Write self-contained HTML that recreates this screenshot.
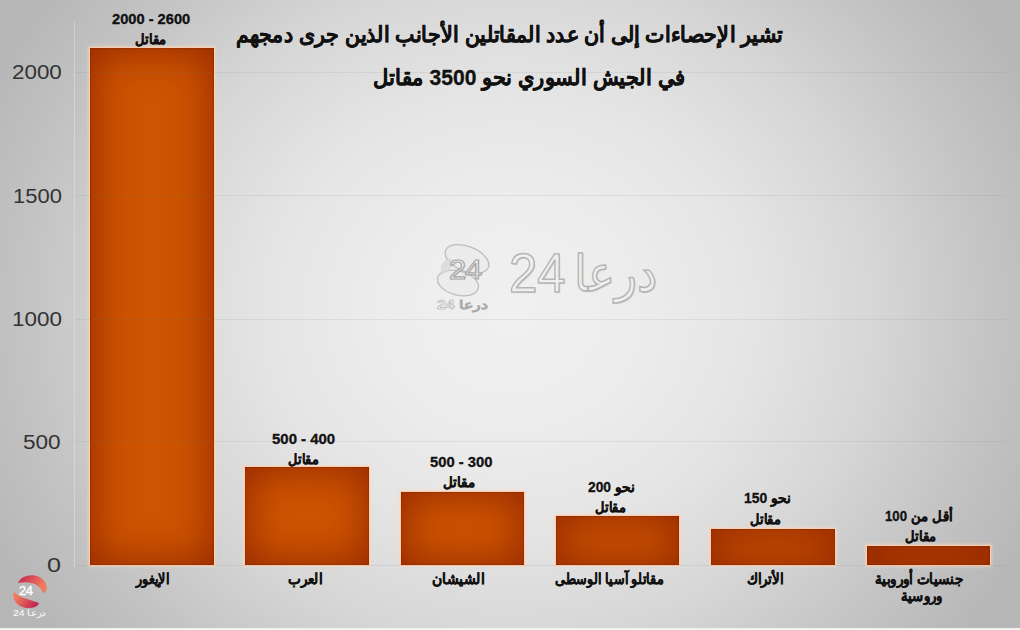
<!DOCTYPE html>
<html lang="ar">
<head>
<meta charset="utf-8">
<style>
html,body{margin:0;padding:0;}
body{width:1020px;height:630px;overflow:hidden;position:relative;font-family:"Liberation Sans",sans-serif;
background:radial-gradient(ellipse 480px 436px at 510px 311px, rgb(240,240,240) 0%, rgb(237,237,237) 25%, rgb(229,229,229) 50%, rgb(215,215,215) 75%, rgb(196,196,196) 100%, rgb(183,183,183) 120%);}
.grid{position:absolute;left:75px;width:931px;height:1px;background:rgba(120,120,120,0.12);}
.vax{position:absolute;left:74px;top:22px;width:1px;height:545px;background:rgba(228,228,228,0.5);}
.bar{position:absolute;width:123.6px;background:#cd5400;box-shadow:inset 0 0 40px 3px rgba(135,30,0,0.8), inset 0 0 2px 0 rgba(100,25,0,0.9), 0 0 0 1px rgba(252,205,175,0.9), 0 0 3px 2px rgba(252,215,190,0.6);}
.t{position:absolute;white-space:nowrap;line-height:1;transform-origin:0 0;}
.b{-webkit-text-stroke:0.3px currentColor;}
.bot{position:absolute;left:0;top:628px;width:1020px;height:2px;background:#f2f2f2;}
</style>
</head>
<body>
<div class="bar" style="left:90.0px;top:48px;height:517px"></div>
<div class="bar" style="left:245.3px;top:467px;height:98px"></div>
<div class="bar" style="left:400.6px;top:492px;height:73px"></div>
<div class="bar" style="left:555.9px;top:516px;height:49px"></div>
<div class="bar" style="left:711.2px;top:529px;height:36px"></div>
<div class="bar" style="left:866.5px;top:546px;height:19px"></div>
<div class="vax"></div>
<div class="grid" style="top:72px"></div>
<div class="grid" style="top:195px"></div>
<div class="grid" style="top:319px"></div>
<div class="grid" style="top:441px"></div>
<div class="grid" style="top:565px"></div>
<div class="t" style="left:11.5px;top:61.8px;font-size:20px;font-weight:normal;color:#333;transform:scaleX(1.119)">2000</div>
<div class="t" style="left:13.0px;top:186.25px;font-size:20px;font-weight:normal;color:#333;transform:scaleX(1.0976)">1500</div>
<div class="t" style="left:11.5px;top:308.85px;font-size:20px;font-weight:normal;color:#333;transform:scaleX(1.122)">1000</div>
<div class="t" style="left:23.3px;top:431.55px;font-size:20px;font-weight:normal;color:#333;transform:scaleX(1.129)">500</div>
<div class="t" style="left:47.15px;top:555.15px;font-size:20px;font-weight:normal;color:#333;transform:scaleX(1.2556)">0</div>
<div class="t b" style="left:112.45px;top:11.7px;font-size:14px;font-weight:bold;color:#111;transform:scaleX(1.0461)">2000 - 2600</div>
<div class="t b" style="left:134.9px;top:32.15px;font-size:14px;font-weight:bold;color:#111;transform:scaleX(0.93)">مقاتل</div>
<div class="t b" style="left:271.5px;top:431.5px;font-size:14px;font-weight:bold;color:#111;transform:scaleX(1.0678)">500 - 400</div>
<div class="t b" style="left:287.75px;top:451.75px;font-size:14px;font-weight:bold;color:#111;transform:scaleX(0.9075)">مقاتل</div>
<div class="t b" style="left:430.4px;top:455.35px;font-size:14px;font-weight:bold;color:#111;transform:scaleX(1.0542)">500 - 300</div>
<div class="t b" style="left:443.25px;top:475.05px;font-size:14px;font-weight:bold;color:#111;transform:scaleX(0.9525)">مقاتل</div>
<div class="t b" style="left:587.7px;top:480.1px;font-size:14px;font-weight:bold;color:#111;transform:scaleX(0.9843)">نحو 200</div>
<div class="t b" style="left:595.2px;top:500.2px;font-size:14px;font-weight:bold;color:#111;transform:scaleX(0.92)">مقاتل</div>
<div class="t b" style="left:743.55px;top:491.45px;font-size:14px;font-weight:bold;color:#111;transform:scaleX(0.99)">نحو 150</div>
<div class="t b" style="left:750.3px;top:511.55px;font-size:14px;font-weight:bold;color:#111;transform:scaleX(0.915)">مقاتل</div>
<div class="t b" style="left:885.35px;top:508.8px;font-size:14px;font-weight:bold;color:#111;transform:scaleX(0.9405)">أقل من 100</div>
<div class="t b" style="left:904.8px;top:528.9px;font-size:14px;font-weight:bold;color:#111;transform:scaleX(0.93)">مقاتل</div>
<div class="t b" style="left:136.1px;top:572.0px;font-size:14.5px;font-weight:bold;color:#111;transform:scaleX(0.85)">الإيغور</div>
<div class="t b" style="left:288.1px;top:572.0px;font-size:14.5px;font-weight:bold;color:#111;transform:scaleX(0.9024)">العرب</div>
<div class="t b" style="left:431.85px;top:572.0px;font-size:14.5px;font-weight:bold;color:#111;transform:scaleX(0.9328)">الشيشان</div>
<div class="t b" style="left:555.0px;top:572.0px;font-size:14.5px;font-weight:bold;color:#111;transform:scaleX(0.8493)">مقاتلو آسيا الوسطى</div>
<div class="t b" style="left:747.05px;top:572.0px;font-size:14.5px;font-weight:bold;color:#111;transform:scaleX(0.8937)">الأتراك</div>
<div class="t b" style="left:875.4px;top:572.0px;font-size:14.5px;font-weight:bold;color:#111;transform:scaleX(0.9044)">جنسيات أوروبية</div>
<div class="t b" style="left:901.2px;top:589.0px;font-size:14.5px;font-weight:bold;color:#111;transform:scaleX(0.8836)">وروسية</div>
<div class="t b" style="left:236.1px;top:24px;font-size:22px;font-weight:bold;color:#111;transform:scaleX(0.935)">تشير الإحصاءات إلى أن عدد المقاتلين الأجانب الذين جرى دمجهم</div>
<div class="t b" style="left:373.1px;top:66.8px;font-size:22px;font-weight:bold;color:#111;transform:scaleX(0.957)">في الجيش السوري نحو 3500 مقاتل</div>

<svg class="wm" style="position:absolute;left:0;top:0" width="1020" height="630" viewBox="0 0 1020 630">
 <defs>
  <linearGradient id="lg1" x1="0" y1="0" x2="1" y2="0.5"><stop offset="0.1" stop-color="#c42a52"/><stop offset="0.9" stop-color="#f07a5c"/></linearGradient>
  <linearGradient id="lg2" x1="0" y1="0.3" x2="1" y2="0.7"><stop offset="0.1" stop-color="#f07a5c"/><stop offset="0.9" stop-color="#c42a52"/></linearGradient>
 </defs>
 <!-- center watermark logo -->
 <g fill="none" stroke="#bdbdbd" stroke-width="1.3">
  <ellipse cx="467" cy="259" rx="23" ry="12.5" transform="rotate(22 467 259)" fill="#ececec"/>
  <ellipse cx="458" cy="283" rx="21" ry="12" transform="rotate(15 458 283)" fill="#ececec"/>
  <path d="M441,266 C445,258 452,256 456,262 C452,268 447,272 441,275 Z" fill="#d8d8d8" stroke="none" opacity="0.8"/>
 </g>
 <!-- bottom-left logo -->
 <path d="M18,583 C22,574 38,572 45,582 C48,587 47,592 43,593 C41,588 37,584 31,583 C27,582 22,582 18,583 Z" fill="url(#lg1)"/>
 <path d="M14,592 C11,601 20,609 30,608 C35,608 39,605 39,603 C34,601 29,600 24,598 C19,596 16,594 14,592 Z" fill="url(#lg2)"/>
</svg>
<div class="t" style="left:449px;top:257px;font-size:27px;color:#f8f8f8;-webkit-text-stroke:1.2px #a5a5a5;letter-spacing:-1px;transform:scaleX(1.15)">24</div>
<div class="t" style="left:437px;top:299px;font-size:12px;font-weight:bold;color:#f2f2f2;-webkit-text-stroke:0.5px #aaa;transform:scaleX(1.3)">24 درعا</div>
<div class="t" style="left:509px;top:245px;font-size:56px;transform:scaleX(0.91);color:#efefef;-webkit-text-stroke:1.5px #b5b5b5;text-shadow:1px 1px 1px rgba(0,0,0,0.15)">24</div>
<div class="t" style="left:574px;top:249px;font-size:50px;transform:scaleX(0.91);color:#efefef;-webkit-text-stroke:1.5px #b5b5b5;text-shadow:1px 1px 1px rgba(0,0,0,0.15)">درعا</div>
<div class="t" style="left:19px;top:584px;font-size:13px;color:#fff;-webkit-text-stroke:0.4px #fff;letter-spacing:-0.5px">24</div>
<div class="t" style="left:13px;top:609px;font-size:9px;color:#fff;transform:scaleX(1.15)">24 درعا</div>
<div class="bot"></div>
</body>
</html>
